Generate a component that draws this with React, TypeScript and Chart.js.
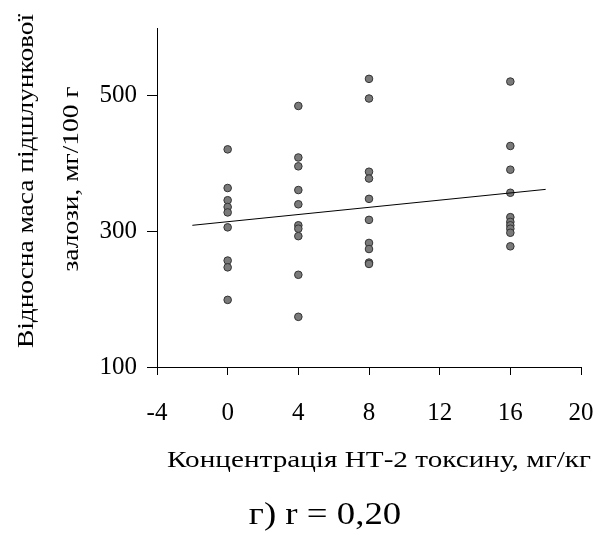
import React, { useEffect, useRef } from "react";
import { Chart, registerables } from "chart.js";

Chart.register(...registerables);

const doseGroups = [0, 4, 8, 16];
const massAt0 = [421, 364, 346, 336, 328, 306, 257, 247, 199];
const massAt4 = [485, 409, 396, 361, 340, 309, 304, 293, 236, 174];
const massAt8 = [525, 496, 388, 378, 348, 317, 283, 274, 254, 252];
const massAt16 = [521, 426, 391, 357, 321, 314, 309, 304, 298, 278];
const trendX = [-2, 18];
const trendY = [309, 362];
const xTicks = [-4, 0, 4, 8, 12, 16, 20];
const yTicks = [100, 300, 500];
const yTitle = ["Відносна маса підшлункової", "залози, мг/100 г"];
const xTitle = "Концентрація НТ-2 токсину, мг/кг";
const caption = "г) r = 0,20";

const FONT = "'Liberation Serif', 'Times New Roman', serif";

function stretchedText(ctx: any, text: string, x: number, y: number, size: number, sx: number, rot: number) {
  ctx.save();
  ctx.fillStyle = "#000";
  ctx.font = `${size}px ${FONT}`;
  ctx.textAlign = "center";
  ctx.textBaseline = "alphabetic";
  ctx.translate(x, y);
  if (rot) ctx.rotate(rot);
  ctx.scale(sx, 1);
  ctx.fillText(text, 0, 0);
  ctx.restore();
}

export default function App() {
  const ref = useRef<HTMLCanvasElement | null>(null);
  useEffect(() => {
    if (!ref.current) return;
    const groups = [massAt0, massAt4, massAt8, massAt16];
    const points: { x: number; y: number }[] = [];
    groups.forEach((vals, i) => vals.forEach((v) => points.push({ x: doseGroups[i], y: v })));

    const textPlugin = {
      id: "texts",
      afterDraw(chart: any) {
        const ctx = chart.ctx;
        stretchedText(ctx, yTitle[0], 33, 181, 23, 1.19, -Math.PI / 2);
        stretchedText(ctx, yTitle[1], 78, 179, 23, 1.19, -Math.PI / 2);
        stretchedText(ctx, xTitle, 379, 467, 23, 1.27, 0);
        stretchedText(ctx, caption, 325, 524, 32, 1.15, 0);
      },
    };

    const chart = new Chart(ref.current, {
      type: "scatter",
      data: {
        datasets: [
          {
            type: "line",
            data: trendX.map((x, i) => ({ x, y: trendY[i] })),
            borderColor: "#000",
            borderWidth: 1,
            pointRadius: 0,
            fill: false,
          } as any,
          {
            data: points,
            pointRadius: 3.8,
            pointBackgroundColor: "#7a7a7a",
            pointBorderColor: "#333",
            pointBorderWidth: 1,
          },
        ],
      },
      options: {
        responsive: false,
        animation: false,
        devicePixelRatio: 1,
        layout: { padding: { left: 0, right: 22, top: 28, bottom: 0 } },
        plugins: { legend: { display: false }, tooltip: { enabled: false } },
        scales: {
          x: {
            type: "linear",
            min: -4,
            max: 20,
            afterBuildTicks: (s: any) => {
              s.ticks = xTicks.map((v) => ({ value: v }));
            },
            afterFit: (s: any) => {
              s.height = 167;
              s.paddingLeft = 0;
              s.paddingRight = 0;
            },
            grid: { drawOnChartArea: false, drawTicks: true, tickLength: 8, color: "#000" },
            border: { display: true, color: "#000", width: 1 },
            ticks: { color: "#000", font: { family: FONT, size: 25 }, padding: 23, maxRotation: 0 },
            title: { display: false },
          },
          y: {
            type: "linear",
            min: 100,
            max: 600,
            afterBuildTicks: (s: any) => {
              s.ticks = yTicks.map((v) => ({ value: v }));
            },
            afterFit: (s: any) => {
              s.width = 157;
              s.paddingTop = 0;
              s.paddingBottom = 0;
            },
            grid: { drawOnChartArea: false, drawTicks: true, tickLength: 10, color: "#000" },
            border: { display: true, color: "#000", width: 1 },
            ticks: { color: "#000", font: { family: FONT, size: 25 }, padding: 10 },
            title: { display: false },
          },
        },
      },
      plugins: [textPlugin],
    });
    return () => chart.destroy();
  }, []);

  return (
    <div style={{ position: "fixed", left: 0, top: 0, width: 603, height: 534, background: "#fff" }}>
      <canvas ref={ref} width={603} height={534} style={{ width: 603, height: 534 }} />
    </div>
  );
}
